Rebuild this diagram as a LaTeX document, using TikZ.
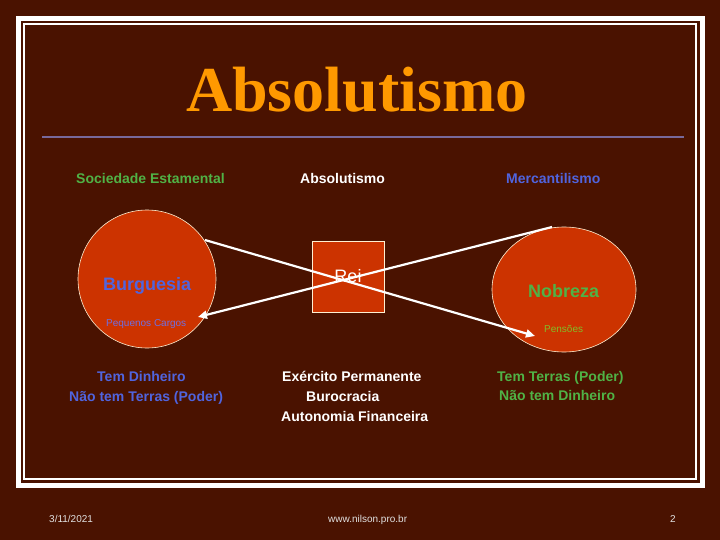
\documentclass[tikz,border=0pt]{standalone}
\usepackage{fontspec}
\setmainfont{Liberation Sans}
\newfontfamily\titlefont{Liberation Serif}
\usetikzlibrary{arrows.meta,calc,shapes.geometric}
\definecolor{bg}{RGB}{74,18,0}
\definecolor{redfill}{RGB}{204,51,0}
\definecolor{titleorange}{RGB}{255,153,0}
\definecolor{rulecol}{RGB}{120,105,155}
\definecolor{txtgreen}{RGB}{80,178,70}
\definecolor{txtblue}{RGB}{80,100,222}
\definecolor{dimblue}{RGB}{110,110,225}
\definecolor{olive}{RGB}{130,190,40}
\definecolor{footcol}{RGB}{225,225,225}
\definecolor{cream}{RGB}{255,240,210}
\tikzset{
  lbl/.style={anchor=base west, inner sep=0pt, font=\fontsize{14}{16}\selectfont\bfseries},
  big/.style={anchor=base west, inner sep=0pt, font=\fontsize{18}{20}\selectfont\bfseries},
  small/.style={anchor=base west, inner sep=0pt, font=\fontsize{10}{12}\selectfont},
  blob/.style={ellipse, fill=redfill, draw=cream, line width=0.6pt, inner sep=0pt},
  conn/.style={draw=white, line width=2.2pt, -{Triangle[length=9pt,width=8pt]}}
}
\begin{document}
\begin{tikzpicture}[x=1pt,y=-1pt]
\useasboundingbox (0,0) rectangle (720,540);
\fill[bg] (0,0) rectangle (720,540);
% frame
\draw[white, line width=5pt] (18.5,18.5) rectangle (702.5,485.5);
\draw[white, line width=1.2pt] (24,24) rectangle (696,479);
% title
\node[anchor=base west, inner sep=0pt, text=titleorange, font=\titlefont\fontsize{64}{70}\selectfont\bfseries] (title) at (186,112) {Absolutismo};
\draw[rulecol, line width=2.4pt] (42,137) -- (684,137);
% headers
\node[lbl, text=txtgreen] (h1) at (76,184) {Sociedade Estamental};
\node[lbl, text=white] (h2) at (300,184) {Absolutismo};
\node[lbl, text=txtblue] (h3) at (506,184) {Mercantilismo};
% shapes
\node[blob, minimum width=138, minimum height=138] (burg) at (147,279) {};
\node[blob, minimum width=144, minimum height=125] (nob) at (564,289.5) {};
\node[fill=redfill, draw=cream, line width=0.6pt, minimum width=72, minimum height=71, inner sep=0pt,
      text=white, font=\fontsize{18}{20}\selectfont] (rei) at (348,276.5) {Rei};
% labels in shapes
\node[big, text=txtblue] (burgl) at (103,290) {Burguesia};
\node[big, text=txtgreen] (nobl) at (528,297) {Nobreza};
\node[small, text=dimblue] (cargos) at (106,326) {Pequenos Cargos};
\node[small, text=olive] (pens) at (544,332) {Pensões};
% connectors
\coordinate (b1) at ($(burg.center)+(58,-39)$);
\coordinate (n1) at ($(nob.center)+(-29,46.5)$);
\coordinate (n2) at ($(nob.center)+(-12,-62.5)$);
\coordinate (b2) at ($(burg.center)+(51,38)$);
\draw[conn] (b1) -- (n1);
\draw[conn] (n2) -- (b2);
% bottom texts
\node[lbl, text=txtblue] (l1) at (97,381) {Tem Dinheiro};
\node[lbl, text=txtblue] (l2) at (69,401) {Não tem Terras (Poder)};
\node[lbl, text=white] (m1) at (282,381) {Exército Permanente};
\node[lbl, text=white] (m2) at (306,401) {Burocracia};
\node[lbl, text=white] (m3) at (281,421) {Autonomia Financeira};
\node[lbl, text=txtgreen] (r1) at (497,381) {Tem Terras (Poder)};
\node[lbl, text=txtgreen] (r2) at (499,400) {Não tem Dinheiro};
% footer
\node[small, text=footcol] (date) at (49,522) {3/11/2021};
\node[small, text=footcol] (web) at (328,522) {www.nilson.pro.br};
\node[small, text=footcol] (page) at (670,522) {2};
\end{tikzpicture}
\end{document}
